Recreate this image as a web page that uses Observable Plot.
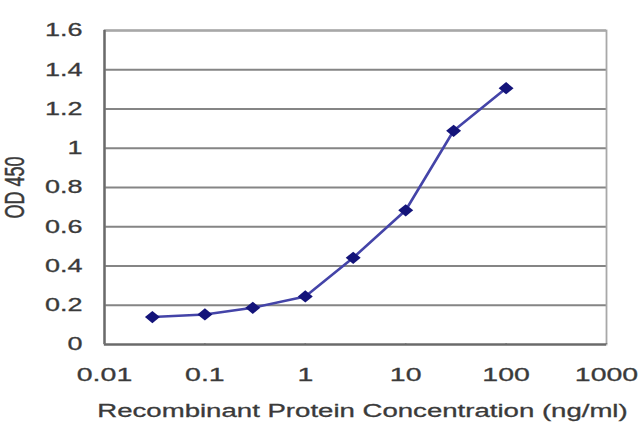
<!DOCTYPE html>
<html>
<head>
<meta charset="utf-8">
<script src="https://cdn.jsdelivr.net/npm/d3@7"></script>
<script src="https://cdn.jsdelivr.net/npm/@observablehq/plot@0.6"></script>
<style>
  html, body { margin: 0; padding: 0; background: #fff; }
  #chart svg { display: block; }
  #chart svg text { stroke: #3a3a3a; stroke-width: 0.3px; }
</style>
</head>
<body>
<div id="chart"></div>
<script>
const conc = [0.03, 0.1, 0.3, 1, 3, 10, 30, 100];
const od = [0.14, 0.153, 0.187, 0.245, 0.442, 0.684, 1.089, 1.306];
const xTicks = [0.01, 0.1, 1, 10, 100, 1000];
const yTicks = [0, 0.2, 0.4, 0.6, 0.8, 1, 1.2, 1.4, 1.6];
const xLabel = "Recombinant Protein Concentration (ng/ml)";
const yLabel = "OD 450";

const data = conc.map((c, i) => ({conc: c, od: od[i]}));

const wideDiamond = {
  draw(ctx, size) {
    const s = Math.sqrt(size / Math.PI);
    const hw = s * 1.1, hh = s * 0.9;
    ctx.moveTo(0, -hh); ctx.lineTo(hw, 0); ctx.lineTo(0, hh); ctx.lineTo(-hw, 0); ctx.closePath();
  }
};

const chart = Plot.plot({
  width: 640,
  height: 427,
  marginLeft: 104,
  marginRight: 34,
  marginTop: 30,
  marginBottom: 83,
  style: {fontFamily: "'Liberation Sans', Arial, sans-serif", fontSize: "18.5px", color: "#3a3a3a", background: "#fff"},
  x: {type: "log", domain: [0.01, 1000]},
  y: {domain: [0, 1.6]},
  marks: [
    Plot.gridY(yTicks, {stroke: "#858585", strokeOpacity: 1, strokeWidth: 1.8}),
    Plot.frame({stroke: "#a8a8a8", strokeWidth: 1.8}),
    Plot.ruleY([0], {stroke: "#6a6a6a", strokeWidth: 2.2}),
    Plot.ruleX([0.01], {stroke: "#6a6a6a", strokeWidth: 2.4}),
    Plot.ruleX(xTicks, {x: d => d, y1: 0, y2: 0.015, stroke: "#777", strokeWidth: 1.5, insetBottom: -2}),
    Plot.axisY(yTicks, {tickSize: 0, tickPadding: 22, tickFormat: d => String(d), label: yLabel, labelAnchor: "center", labelArrow: "none", labelOffset: 100, fontSize: "18px"}),
    Plot.axisX(xTicks, {tickSize: 0, tickPadding: 23, tickFormat: d => String(d), label: xLabel, labelAnchor: "center", labelArrow: "none", labelOffset: 72, fontSize: "19px"}),
    Plot.line(data, {x: "conc", y: "od", stroke: "#4444a8", strokeWidth: 2.6}),
    Plot.dot(data, {x: "conc", y: "od", symbol: wideDiamond, r: 6.8, fill: "#14147a", stroke: "none"})
  ]
});
document.getElementById("chart").appendChild(chart);

// the reference's lettering is stretched horizontally
chart.querySelectorAll("text").forEach(el => {
  const x = +el.getAttribute("x") || 0;
  const y = +el.getAttribute("y") || 0;
  const tr = el.getAttribute("transform") || "";
  const sc = tr.includes("rotate") ? "scale(1,1.5)" : "scale(1.5,1)";
  el.setAttribute("transform", `${tr} translate(${x},${y}) ${sc} translate(${-x},${-y})`);
});
chart.querySelectorAll('[aria-label="x-axis label"] text').forEach(el => {
  el.setAttribute("font-size", "18.4px");
  el.setAttribute("transform", "translate(7,0) " + el.getAttribute("transform"));
});
</script>
</body>
</html>
